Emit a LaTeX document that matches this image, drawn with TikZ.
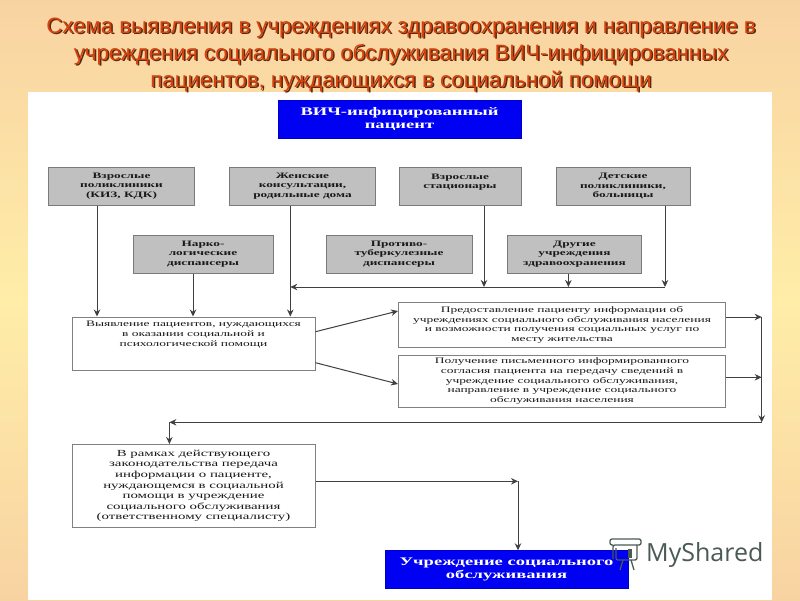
\documentclass[tikz,border=0pt]{standalone}
\usepackage{fontspec}
\setmainfont{Liberation Serif}
\newfontfamily\headfont{Liberation Sans}
\newfontfamily\markfont{Open Sans}
\newfontfamily\wideserif[FakeStretch=1.6]{Liberation Serif}
\usetikzlibrary{arrows.meta}
\definecolor{peach}{HTML}{F8D3A2}
\definecolor{butter}{HTML}{FFEDA8}
\definecolor{headred}{HTML}{D8400C}
\definecolor{headshade}{HTML}{5A2A10}
\definecolor{greyfill}{HTML}{C0C0C0}
\definecolor{greyedge}{HTML}{7A7A7A}
\definecolor{markgrey}{HTML}{4A5A55}
\tikzset{
	arr/.style={-{Stealth[length=7pt,width=6.5pt]},line width=1pt,black!75},
	plainbox/.style={draw=black!50,line width=1pt,fill=white,align=center,inner sep=0pt,text=black!90,font=\wideserif\fontsize{8.4}{9.7}\selectfont},
	greybox/.style={plainbox,fill=greyfill,draw=greyedge,font=\wideserif\bfseries\fontsize{8.3}{9.7}\selectfont},
	bluebox/.style={draw=blue!80!black,fill=blue!95!black,align=center,inner sep=0pt,text=white,font=\wideserif\bfseries\fontsize{11.6}{13.7}\selectfont},
	headline/.style={align=center,font=\headfont\fontsize{22.2}{27}\selectfont}
}
\newcommand{\headtext}{Схема выявления в учреждениях здравоохранения и направление в\\
учреждения социального обслуживания ВИЧ-инфицированных\\
пациентов, нуждающихся в социальной помощи}
\begin{document}
\begin{tikzpicture}[x=1pt,y=-1pt]
	\useasboundingbox (0,0) rectangle (800,600);
	\shade[top color=peach,bottom color=butter] (0,0) rectangle (800,300);
	\shade[top color=butter,bottom color=peach] (0,300) rectangle (800,600);
	\fill[white] (28,92) rectangle (772,600);
	% heading
	\node[headline,text=headshade] at (402.5,56.5) {\headtext};
	\node[headline,text=headred] (heading) at (401,55) {\headtext};
	% top and bottom
	\node[bluebox,minimum width=243,minimum height=38] (patient) at (399.5,119) {ВИЧ-инфицированный\\пациент};
	\node[bluebox,minimum width=243,minimum height=38] (service) at (506.5,569.5) {Учреждение социального\\обслуживания};
	% institutions
	\node[greybox,minimum width=146,minimum height=38] (adultclinic) at (121.5,186) {Взрослые\\поликлиники\\(КИЗ, КДК)};
	\node[greybox,minimum width=146,minimum height=38] (women) at (302.5,186) {Женские\\консультации,\\родильные дома};
	\node[greybox,minimum width=122,minimum height=38] (hospital) at (460,186) {Взрослые\\стационары\\~};
	\node[greybox,minimum width=134,minimum height=38] (children) at (623,186) {Детские\\поликлиники,\\больницы};
	\node[greybox,minimum width=140,minimum height=38] (narco) at (203,254) {Нарко-\\логические\\диспансеры};
	\node[greybox,minimum width=146,minimum height=38] (tuber) at (399,254) {Противо-\\туберкулезные\\диспансеры};
	\node[greybox,minimum width=134,minimum height=38] (other) at (574.5,254) {Другие\\учреждения\\здравоохранения};
	% steps
	\node[plainbox,minimum width=243,minimum height=53] (detect) at (193.5,343.5) {Выявление пациентов, нуждающихся\\в оказании социальной и\\психологической помощи\\~\\~};
	\node[plainbox,minimum width=327,minimum height=45] (inform) at (562,325) {Предоставление пациенту информации об\\учреждениях социального обслуживания населения\\и возможности получения социальных услуг по\\месту жительства};
	\node[plainbox,minimum width=327,minimum height=52] (consent) at (562,381) {Получение письменного информированного\\согласия пациента на передачу сведений в\\учреждение социального обслуживания,\\направление в учреждение социального\\обслуживания населения};
	\node[plainbox,minimum width=243,minimum height=83,font=\wideserif\fontsize{9.3}{10.6}\selectfont] (transfer) at (193.5,486) {В рамках действующего\\законодательства передача\\информации о пациенте,\\нуждающемся в социальной\\помощи в учреждение\\социального обслуживания\\(ответственному специалисту)};
	% joints
	\coordinate (busright) at (665,287);
	\coordinate (busleft) at (290.3,287);
	\coordinate (sideA) at (761.7,317);
	\coordinate (sideB) at (761.7,377.3);
	\coordinate (sideC) at (761.7,422.3);
	\coordinate (backC) at (169.4,422.3);
	\coordinate (turn) at (518,481.3);
	% arrows
	\draw[arr] (adultclinic.south -| 97,0) -- (detect.north -| 97,0);
	\draw[arr] (narco.south -| 193,0) -- (detect.north -| 193,0);
	\draw[arr] (women.south -| busleft) -- (detect.north -| busleft);
	\draw[arr] (hospital.south -| 484,0) -- (busright -| 484,0);
	\draw[arr] (other.south -| 568.4,0) -- (busright -| 568.4,0);
	\draw[arr] (children.south -| busright) -- (busright);
	\draw[arr] (busright) -- (busleft);
	\draw[arr] (detect.east |- 0,331.7) -- (inform.west |- 0,311);
	\draw[arr] (detect.east |- 0,362.7) -- (consent.west |- 0,384);
	\draw[arr] (inform.east |- sideA) -- (sideA);
	\draw[arr] (consent.east |- sideB) -- (sideB);
	\draw[arr] (sideA) -- (sideC);
	\draw[arr] (sideC) -- (backC);
	\draw[arr] (backC) -- (transfer.north -| backC);
	\draw[arr] (transfer.east |- turn) -- (turn);
	\draw[arr] (turn) -- (service.north -| turn);
	% watermark
	\node[text=markgrey,font=\markfont\fontsize{25}{25}\selectfont,anchor=west,inner sep=0pt] (myshared) at (646,555) {MyShared};
	\draw[markgrey,line width=1.3pt,rounded corners=2pt] (613,545) -- (610,545) -- (610,539) -- (641,539) -- (641,545) -- (613,545) -- (613,559) (637,545) -- (637,560) -- (616,560) -- (616,548);
	\draw[markgrey,line width=1.3pt] (623,560) -- (620,570) (631,560) -- (634,570);
	\fill[markgrey] (628,549) rectangle (632,558);
\end{tikzpicture}
\end{document}
